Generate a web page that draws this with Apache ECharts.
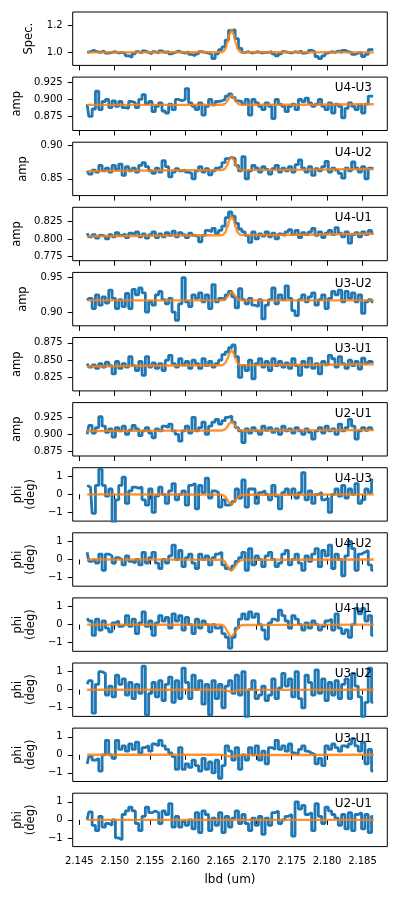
<!DOCTYPE html>
<html lang="en">
<head>
    <meta charset="UTF-8">
    <title>Spectrum and differential visibilities</title>
    <script src="https://cdn.jsdelivr.net/npm/echarts@6/dist/echarts.min.js"></script>
</head>
<body style="margin:0;background-color:#ffffff">

<div id="main" style="width:399px;height:901px;"></div>

<script type="text/javascript">

    // spectral channels (um)
    var lbd0 = 2.1461
    var dlbd = 0.00047
    var nChan = 87
    var xTicks = [2.145, 2.150, 2.155, 2.160, 2.165, 2.170, 2.175, 2.180, 2.185]

    // knots of the fitted model line
    var modelLbd = [2.1461, 2.1650, 2.1653, 2.1656, 2.1659, 2.1662, 2.1665, 2.1668, 2.1671, 2.1674, 2.1677, 2.1680, 2.1866]

    // tick labels of each panel
    var ticksSpec = [1.0, 1.2]
    var ticksU4U3 = [0.875, 0.900, 0.925]
    var ticksU4U2 = [0.85, 0.90]
    var ticksU4U1 = [0.775, 0.800, 0.825]
    var ticksU3U2 = [0.90, 0.95]
    var ticksU3U1 = [0.825, 0.850, 0.875]
    var ticksU2U1 = [0.875, 0.900, 0.925]
    var ticksPhi = [-1, 0, 1]

    // data
    var spec = [1.0, 1.005, 1.015, 1.005, 1.0, 1.01, 0.995, 1.0, 1.005, 0.995,
        1.0, 0.99, 0.975, 0.965, 0.99, 1.005, 0.995, 1.01, 1.0, 0.99,
        1.005, 0.995, 1.01, 1.0, 1.005, 0.99, 1.0, 1.01, 1.0, 0.995,
        1.005, 0.985, 0.975, 0.99, 1.005, 1.0, 0.995, 0.985, 0.955, 0.99,
        1.02, 1.04, 1.09, 1.16, 1.165, 1.1, 1.03, 1.0, 1.005, 0.995,
        1.0, 1.005, 0.995, 1.0, 1.0, 1.005, 0.99, 0.975, 0.99, 1.005,
        1.0, 0.995, 1.005, 1.0, 1.01, 0.995, 1.0, 1.015, 1.005, 0.97,
        0.955, 0.975, 0.995, 1.005, 1.0, 1.01, 1.0, 1.015, 1.005, 1.0,
        0.985, 0.995, 1.0, 0.97, 0.985, 1.02, 1.025]
    var specModel = [1.0, 1.0007, 1.0046, 1.022, 1.068, 1.132, 1.165, 1.132, 1.068, 1.022, 1.0046, 1.0007, 1.0]

    var ampU4U3 = [0.893, 0.875, 0.886, 0.912, 0.885, 0.897, 0.9, 0.888, 0.898, 0.89,
        0.897, 0.888, 0.887, 0.897, 0.895, 0.888, 0.9, 0.907, 0.894, 0.897,
        0.882, 0.89, 0.895, 0.883, 0.88, 0.893, 0.885, 0.9, 0.898, 0.9,
        0.916, 0.895, 0.89, 0.885, 0.895, 0.877, 0.89, 0.9, 0.892, 0.897,
        0.898, 0.9, 0.905, 0.908, 0.903, 0.898, 0.897, 0.893, 0.9, 0.877,
        0.9, 0.895, 0.89, 0.885, 0.895, 0.89, 0.872, 0.9, 0.893, 0.89,
        0.882, 0.89, 0.893, 0.885, 0.9, 0.897, 0.902, 0.895, 0.89, 0.893,
        0.9, 0.89, 0.885, 0.895, 0.88, 0.893, 0.89, 0.873, 0.887, 0.895,
        0.89, 0.885, 0.892, 0.88, 0.893, 0.905, 0.905]
    var ampU4U3Model = [0.892, 0.8921, 0.8925, 0.8939, 0.8978, 0.9032, 0.906, 0.9032, 0.8978, 0.8939, 0.8925, 0.8921, 0.893]

    var ampU4U2 = [0.862, 0.857, 0.863, 0.86, 0.87, 0.862, 0.866, 0.86, 0.87, 0.864,
        0.872, 0.855, 0.868, 0.862, 0.866, 0.86, 0.87, 0.874, 0.868, 0.862,
        0.858, 0.866, 0.86, 0.877, 0.868, 0.853, 0.86, 0.865, 0.862, 0.863,
        0.86, 0.858, 0.85, 0.862, 0.868, 0.86, 0.865, 0.856, 0.862, 0.866,
        0.868, 0.874, 0.88, 0.882, 0.88, 0.87, 0.862, 0.883, 0.85, 0.862,
        0.87, 0.866, 0.86, 0.868, 0.864, 0.857, 0.865, 0.87, 0.86, 0.866,
        0.862, 0.868, 0.86, 0.871, 0.878, 0.866, 0.86, 0.868, 0.855, 0.865,
        0.862, 0.868, 0.876, 0.86, 0.866, 0.863, 0.858, 0.851, 0.866, 0.862,
        0.875, 0.866, 0.86, 0.868, 0.85, 0.866, 0.865]
    var ampU4U2Model = [0.8615, 0.8629, 0.8634, 0.8655, 0.8709, 0.8786, 0.8825, 0.8786, 0.871, 0.8656, 0.8635, 0.863, 0.8645]

    var ampU4U1 = [0.808, 0.803, 0.806, 0.801, 0.805, 0.804, 0.8, 0.806, 0.803, 0.809,
        0.805, 0.807, 0.802, 0.808, 0.806, 0.81, 0.803, 0.807, 0.801, 0.806,
        0.81, 0.802, 0.807, 0.803, 0.809, 0.805, 0.811, 0.803, 0.809, 0.806,
        0.802, 0.808, 0.805, 0.803, 0.796, 0.805, 0.812, 0.81, 0.815, 0.808,
        0.812, 0.818, 0.83, 0.838, 0.832, 0.822, 0.814, 0.81, 0.805, 0.795,
        0.81, 0.8, 0.807, 0.804, 0.81, 0.803, 0.808, 0.8, 0.807, 0.805,
        0.81, 0.813, 0.806, 0.812, 0.802, 0.809, 0.806, 0.81, 0.815, 0.805,
        0.81, 0.802, 0.808, 0.812, 0.806, 0.816, 0.808, 0.803, 0.81, 0.794,
        0.806, 0.809, 0.803, 0.81, 0.806, 0.812, 0.808]
    var ampU4U1Model = [0.8036, 0.8052, 0.806, 0.8088, 0.8163, 0.8268, 0.832, 0.8268, 0.8164, 0.8089, 0.8061, 0.8054, 0.8072]

    var ampU3U2 = [0.917, 0.92, 0.905, 0.925, 0.91, 0.922, 0.913, 0.932, 0.92, 0.905,
        0.918, 0.908, 0.927, 0.905, 0.933, 0.925, 0.935, 0.928, 0.9, 0.915,
        0.91, 0.925, 0.93, 0.918, 0.912, 0.92, 0.9, 0.888, 0.912, 0.95,
        0.915, 0.908, 0.925, 0.92, 0.928, 0.915, 0.925, 0.905, 0.94, 0.915,
        0.92, 0.918, 0.925, 0.93, 0.922, 0.906, 0.934, 0.918, 0.912, 0.92,
        0.91, 0.908, 0.918, 0.89, 0.91, 0.918, 0.935, 0.912, 0.925, 0.918,
        0.938, 0.92, 0.902, 0.895, 0.918, 0.925, 0.915, 0.922, 0.928, 0.91,
        0.918, 0.925, 0.905, 0.92, 0.93, 0.925, 0.932, 0.915, 0.93, 0.92,
        0.928, 0.915, 0.925, 0.898, 0.915, 0.918, 0.915]
    var ampU3U2Model = [0.917, 0.917, 0.9173, 0.9186, 0.9219, 0.9266, 0.929, 0.9266, 0.9219, 0.9186, 0.9173, 0.917, 0.917]

    var ampU3U1 = [0.845, 0.84, 0.843, 0.838, 0.845, 0.84, 0.847, 0.842, 0.83, 0.848,
        0.838, 0.845, 0.84, 0.855, 0.842, 0.835, 0.848, 0.828, 0.855, 0.84,
        0.846, 0.838, 0.845, 0.835, 0.85, 0.857, 0.845, 0.84, 0.852, 0.843,
        0.848, 0.838, 0.85, 0.845, 0.838, 0.852, 0.842, 0.848, 0.84, 0.845,
        0.85, 0.858, 0.862, 0.868, 0.872, 0.855, 0.825, 0.842, 0.835, 0.85,
        0.823, 0.845, 0.852, 0.84, 0.848, 0.835, 0.852, 0.842, 0.848, 0.84,
        0.846, 0.838, 0.852, 0.842, 0.828, 0.848, 0.84, 0.853, 0.838, 0.845,
        0.83, 0.848, 0.843, 0.857, 0.852, 0.84, 0.855, 0.845, 0.838, 0.85,
        0.842, 0.848, 0.837, 0.853, 0.845, 0.848, 0.846]
    var ampU3U1Model = [0.8407, 0.8426, 0.8431, 0.8455, 0.8515, 0.8601, 0.8645, 0.8601, 0.8516, 0.8457, 0.8433, 0.8428, 0.8441]

    var ampU2U1 = [0.9, 0.913, 0.902, 0.91, 0.926, 0.912, 0.903, 0.908, 0.896, 0.91,
        0.905, 0.912, 0.9, 0.906, 0.913, 0.908, 0.898, 0.905, 0.91, 0.902,
        0.895, 0.908, 0.905, 0.912, 0.91, 0.915, 0.905, 0.9, 0.89, 0.905,
        0.912, 0.902, 0.925, 0.905, 0.91, 0.918, 0.9, 0.912, 0.918, 0.922,
        0.915, 0.92, 0.925, 0.927, 0.918, 0.91, 0.905, 0.888, 0.908, 0.902,
        0.91, 0.905, 0.9, 0.912, 0.906, 0.91, 0.903, 0.908, 0.9, 0.912,
        0.905, 0.908, 0.902, 0.91, 0.905, 0.9, 0.908, 0.903, 0.893, 0.905,
        0.91, 0.902, 0.912, 0.905, 0.908, 0.9, 0.915, 0.905, 0.91, 0.922,
        0.912, 0.893, 0.905, 0.91, 0.906, 0.91, 0.907]
    var ampU2U1Model = [0.9049, 0.9056, 0.906, 0.9074, 0.9109, 0.916, 0.9186, 0.916, 0.911, 0.9075, 0.906, 0.9057, 0.9064]

    var phiU4U3 = [0.5, 0.4, -1.05, 0.5, 1.4, 0.5, -0.1, 0.3, -1.6, -0.3,
        0.5, 0.95, -0.5, 0.2, 0.4, 0.35, 0.4, -0.3, -0.6, 0.3,
        -1.0, -0.1, 0.4, 0.0, -0.5, 0.2, 0.6, -0.3, 0.0, 0.2,
        -0.6, 0.5, 0.6, -0.8, 0.5, 0.1, 0.9, -0.2, 0.2, 0.1,
        -0.7, -0.3, -0.6, -0.55, -0.4, 0.3, -0.2, 0.8, -0.7, 0.3,
        0.3, -0.5, 0.1, 0.2, 0.0, -0.3, 0.5, -0.1, -0.8, 0.1,
        0.3, 0.0, 0.3, -0.2, 0.1, 1.2, -0.3, 0.2, -0.5, 0.0,
        0.1, -0.3, -0.2, -1.0, 0.0, 0.3, -0.1, 0.5, -0.2, 0.3,
        0.0, 0.6, -0.5, -0.3, 0.3, 0.1, 0.8]
    var phiU4U3Model = [0, -0.01, -0.04, -0.12, -0.3, -0.48, -0.53, -0.45, -0.3, -0.16, -0.07, -0.02, 0]

    var phiU4U2 = [0.4, -0.1, 0.0, -0.2, 0.3, -0.6, 0.3, 0.2, -0.2, 0.1,
        0.0, -0.3, 0.2, -0.1, -0.2, 0.0, -0.3, 0.4, -0.2, 0.1,
        0.4, -0.2, -0.5, 0.0, -0.2, 0.2, 0.8, 0.0, 0.5, -0.4,
        0.1, 0.3, -0.2, -0.5, 0.3, 0.0, 0.2, -0.3, 0.1, 0.3,
        0.4, -0.3, -0.5, -0.6, -0.35, -0.1, 0.1, 0.4, -0.6, 0.6,
        -0.3, 0.2, 0.0, -0.4, 0.2, 0.4, 0.0, -0.4, -0.2, 0.3,
        0.5, -0.3, 0.0, 0.3, -0.2, -0.6, 0.2, -0.1, 0.3, 0.6,
        -0.4, 0.5, 0.2, 0.8, -0.5, 0.3, 0.0, -0.9, 0.2, 1.0,
        0.6, -0.6, 0.3, 0.4, 0.5, -0.3, -0.6]
    var phiU4U2Model = [0, -0.01, -0.04, -0.13, -0.35, -0.55, -0.6, -0.5, -0.32, -0.16, -0.06, -0.02, 0]

    var phiU4U1 = [0.35, 0.2, -0.6, 0.3, -0.3, 0.2, -0.2, -0.4, 0.1, 0.2,
        -0.1, 0.0, 0.5, -0.1, 0.3, -0.5, 0.1, 0.7, -0.1, 0.2,
        -0.6, 0.1, 0.5, 0.2, 0.4, -0.2, 0.6, 0.2, 0.5, -0.3,
        0.4, 0.0, -0.5, 0.3, -0.2, 0.2, 0.0, -0.4, 0.0, -0.2,
        -0.1, -0.5, -0.7, -1.3, -0.7, -0.2, 0.3, 0.6, 0.3, 0.7,
        0.4, 0.6, 0.0, -0.3, -0.8, 0.1, 0.3, 0.2, 0.8, 0.5,
        0.2, -0.2, 0.5, 0.3, 0.0, -0.3, 0.1, -0.2, 0.2, 0.0,
        -0.3, -0.1, 0.2, 0.3, -0.3, 0.6, -0.2, -0.5, -0.3, -0.7,
        0.0, 0.9, 0.6, 0.9, 0.2, 0.5, -0.6]
    var phiU4U1Model = [0, -0.01, -0.05, -0.15, -0.38, -0.6, -0.65, -0.55, -0.36, -0.18, -0.07, -0.02, 0]

    var phiU3U2 = [0.3, 0.5, -1.3, 0.3, 1.0, 0.9, -0.3, 0.2, -0.4, 0.8,
        0.3, 0.6, -0.3, 0.4, -0.5, 0.3, -0.2, 1.3, -1.4, -0.2,
        0.4, -0.4, 0.5, -0.6, 0.3, 0.7, -0.7, 0.5, -0.5, 1.2,
        0.4, -0.5, 0.8, 0.0, 0.5, -0.8, 0.3, -1.4, 0.5, -0.5,
        0.3, -1.0, 0.2, 0.5, -0.2, 0.8, -0.3, 1.0, -1.5, 0.0,
        0.5, -0.5, -0.3, 0.2, -0.6, -0.3, 0.6, -0.5, 0.1, 0.9,
        0.2, 0.6, -0.4, 1.0, -0.5, -1.0, 0.8, 0.4, -0.3, 1.1,
        -0.2, 0.6, -0.6, 0.4, -0.3, 0.5, -0.5, 0.3, 0.6, -0.5,
        0.9, 0.2, -0.4, -1.5, -0.7, 1.2, -0.7]
    var phiU3U2Model = [0, 0, -0.01, -0.03, -0.06, -0.09, -0.1, -0.09, -0.07, -0.04, -0.02, -0.01, 0]

    var phiU3U1 = [-0.5, -0.1, -0.3, -0.2, -0.9, 0.0, 0.8, 0.0, -0.2, 0.8,
        0.3, 0.5, 0.2, 0.6, 0.3, 0.7, 0.1, 0.4, 0.5, 0.2,
        0.6, 0.5, 0.8, 0.5, 0.3, 0.1, -0.1, -0.8, 0.4, -0.8,
        -0.5, -0.7, -0.3, -0.6, -0.9, -0.2, -0.8, -0.4, -1.0, -0.3,
        -1.3, -0.6, 0.5, 0.2, -0.3, 0.4, -0.8, 0.0, -0.3, 0.4,
        0.0, 0.5, -0.3, 0.2, -0.5, 0.4, 0.3, 0.8, 0.3, 0.5,
        0.2, 0.6, 0.1, 0.0, 0.3, 0.5, 0.2, 0.1, 0.0, -0.5,
        -0.2, -0.6, 0.5, 0.3, 0.6, 0.4, 0.2, 0.5, 0.4, 0.6,
        0.9, 0.5, 0.2, 0.7, -0.5, 0.3, -0.9]
    var phiU3U1Model = [0, 0, -0.01, -0.03, -0.06, -0.09, -0.1, -0.09, -0.07, -0.04, -0.02, -0.01, 0]

    var phiU2U1 = [0.0, 0.45, -0.3, -0.6, 0.2, -0.4, -0.2, -0.3, 0.0, -1.0,
        -1.1, 0.3, 0.5, 0.7, 0.5, -0.2, -0.6, 0.2, 0.7, 0.4,
        0.5, 0.4, -0.2, 0.5, 0.3, 0.9, -0.4, 0.2, -0.4, -0.1,
        -0.3, 0.0, -0.5, 0.4, -0.7, 0.5, 0.3, -0.6, 0.1, -0.3,
        0.4, -0.7, 0.2, -0.4, 0.1, 0.5, -0.2, 0.3, -0.2, -0.6,
        0.1, -0.3, 0.2, -0.8, 0.1, -0.3, 0.4, 0.5, -0.2, 0.0,
        0.2, 0.3, -0.9, 1.0, 0.6, 0.8, 0.3, 0.4, -0.6, 0.9,
        0.2, -0.2, 0.7, 0.5, 0.3, 0.1, -0.3, 0.3, -0.5, 0.4,
        -0.6, 0.3, 0.4, -0.5, 0.3, -0.7, 0.2]
    var phiU2U1Model = [0, 0, 0, 0, 0, 0, 0, 0, 0, 0, 0, 0, 0]

    var lbd = []
    for (var i = 0; i < nChan; i++) {
        lbd.push(lbd0 + i * dlbd)
    }

    var panels = [
        {name: 'Spec.', tag: '', data: spec, model: specModel, ticks: ticksSpec, dec: 1, min: 0.905, max: 1.295, gap: 37},
        {name: 'amp', tag: 'U4-U3', data: ampU4U3, model: ampU4U3Model, ticks: ticksU4U3, dec: 3, min: 0.8544, max: 0.9328, gap: 48},
        {name: 'amp', tag: 'U4-U2', data: ampU4U2, model: ampU4U2Model, ticks: ticksU4U2, dec: 2, min: 0.825, max: 0.9045, gap: 42},
        {name: 'amp', tag: 'U4-U1', data: ampU4U1, model: ampU4U1Model, ticks: ticksU4U1, dec: 3, min: 0.7693, max: 0.8446, gap: 48},
        {name: 'amp', tag: 'U3-U2', data: ampU3U2, model: ampU3U2Model, ticks: ticksU3U2, dec: 2, min: 0.880, max: 0.9577, gap: 42},
        {name: 'amp', tag: 'U3-U1', data: ampU3U1, model: ampU3U1Model, ticks: ticksU3U1, dec: 3, min: 0.8054, max: 0.8828, gap: 48},
        {name: 'amp', tag: 'U2-U1', data: ampU2U1, model: ampU2U1Model, ticks: ticksU2U1, dec: 3, min: 0.8682, max: 0.9466, gap: 48},
        {name: 'phi\n(deg)', tag: 'U4-U3', data: phiU4U3, model: phiU4U3Model, ticks: ticksPhi, dec: 0, min: -1.48, max: 1.48, gap: 35},
        {name: 'phi\n(deg)', tag: 'U4-U2', data: phiU4U2, model: phiU4U2Model, ticks: ticksPhi, dec: 0, min: -1.48, max: 1.48, gap: 35},
        {name: 'phi\n(deg)', tag: 'U4-U1', data: phiU4U1, model: phiU4U1Model, ticks: ticksPhi, dec: 0, min: -1.48, max: 1.48, gap: 35},
        {name: 'phi\n(deg)', tag: 'U3-U2', data: phiU3U2, model: phiU3U2Model, ticks: ticksPhi, dec: 0, min: -1.48, max: 1.48, gap: 35},
        {name: 'phi\n(deg)', tag: 'U3-U1', data: phiU3U1, model: phiU3U1Model, ticks: ticksPhi, dec: 0, min: -1.48, max: 1.48, gap: 35},
        {name: 'phi\n(deg)', tag: 'U2-U1', data: phiU2U1, model: phiU2U1Model, ticks: ticksPhi, dec: 0, min: -1.48, max: 1.48, gap: 35}
    ]

    function pairs(xs, ys) {
        var out = []
        for (var i = 0; i < ys.length; i++) out.push([xs[i], ys[i]])
        return out
    }

    function fmt(v, dec) {
        var s = Math.abs(v).toFixed(dec)
        return v < -1e-9 ? '\u2212' + s : s
    }

    var font = 'DejaVu Sans'
    var top0 = 12, pitch = 65.1, ph = 53.4, gl = 72.7, gw = 314.6

    var grids = [], xAxes = [], yAxes = [], series = [], graphics = []

    panels.forEach(function (p, k) {
        var top = top0 + k * pitch
        var last = k === panels.length - 1
        grids.push({left: gl, top: top, width: gw, height: ph, show: true,
            borderColor: '#000', borderWidth: 1, backgroundColor: '#fff'})
        xAxes.push({
            type: 'value', gridIndex: k, min: 2.14406, max: 2.18851,
            axisLine: {show: false},
            splitLine: {show: false},
            axisTick: {show: true, length: 5, customValues: xTicks, lineStyle: {color: '#000', width: 1}},
            axisLabel: {show: last, customValues: xTicks, margin: 10, fontSize: 10, color: '#000', fontFamily: font,
                formatter: function (v) { return v.toFixed(3) }},
            name: last ? 'lbd (um)' : '', nameLocation: 'middle', nameGap: 27,
            nameTextStyle: {fontSize: 12, color: '#000', fontFamily: font}
        })
        yAxes.push({
            type: 'value', gridIndex: k, min: p.min, max: p.max,
            axisLine: {show: false},
            splitLine: {show: false},
            axisTick: {show: true, length: 5, customValues: p.ticks, lineStyle: {color: '#000', width: 1}},
            axisLabel: {show: true, customValues: p.ticks, margin: 10, fontSize: 10, color: '#000', fontFamily: font,
                formatter: function (v) { return fmt(v, p.dec) }},
            name: p.name, nameLocation: 'middle', nameGap: p.gap,
            nameTextStyle: {fontSize: 11.5, lineHeight: 13, color: '#000', fontFamily: font}
        })
        series.push({
            type: 'line', xAxisIndex: k, yAxisIndex: k, data: pairs(lbd, p.data),
            step: 'middle', showSymbol: false, silent: true, z: 2,
            lineStyle: {color: '#1f77b4', width: 2.8}
        })
        series.push({
            type: 'line', xAxisIndex: k, yAxisIndex: k, data: pairs(modelLbd, p.model),
            smooth: 0.4, smoothMonotone: 'x', showSymbol: false, silent: true, z: 3,
            lineStyle: {color: '#ff7f0e', width: 2.4, opacity: 0.85}
        })
        if (p.tag) {
            graphics.push({type: 'text', x: 372, y: top + 11, z: 10,
                style: {text: p.tag, font: '12px ' + font, fill: '#000', align: 'right', verticalAlign: 'middle'}})
        }
    })

    var myChart = echarts.init(document.getElementById('main'))
    myChart.setOption({
        animation: false,
        backgroundColor: '#fff',
        grid: grids,
        xAxis: xAxes,
        yAxis: yAxes,
        series: series,
        graphic: graphics
    })

</script>

</body>
</html>
